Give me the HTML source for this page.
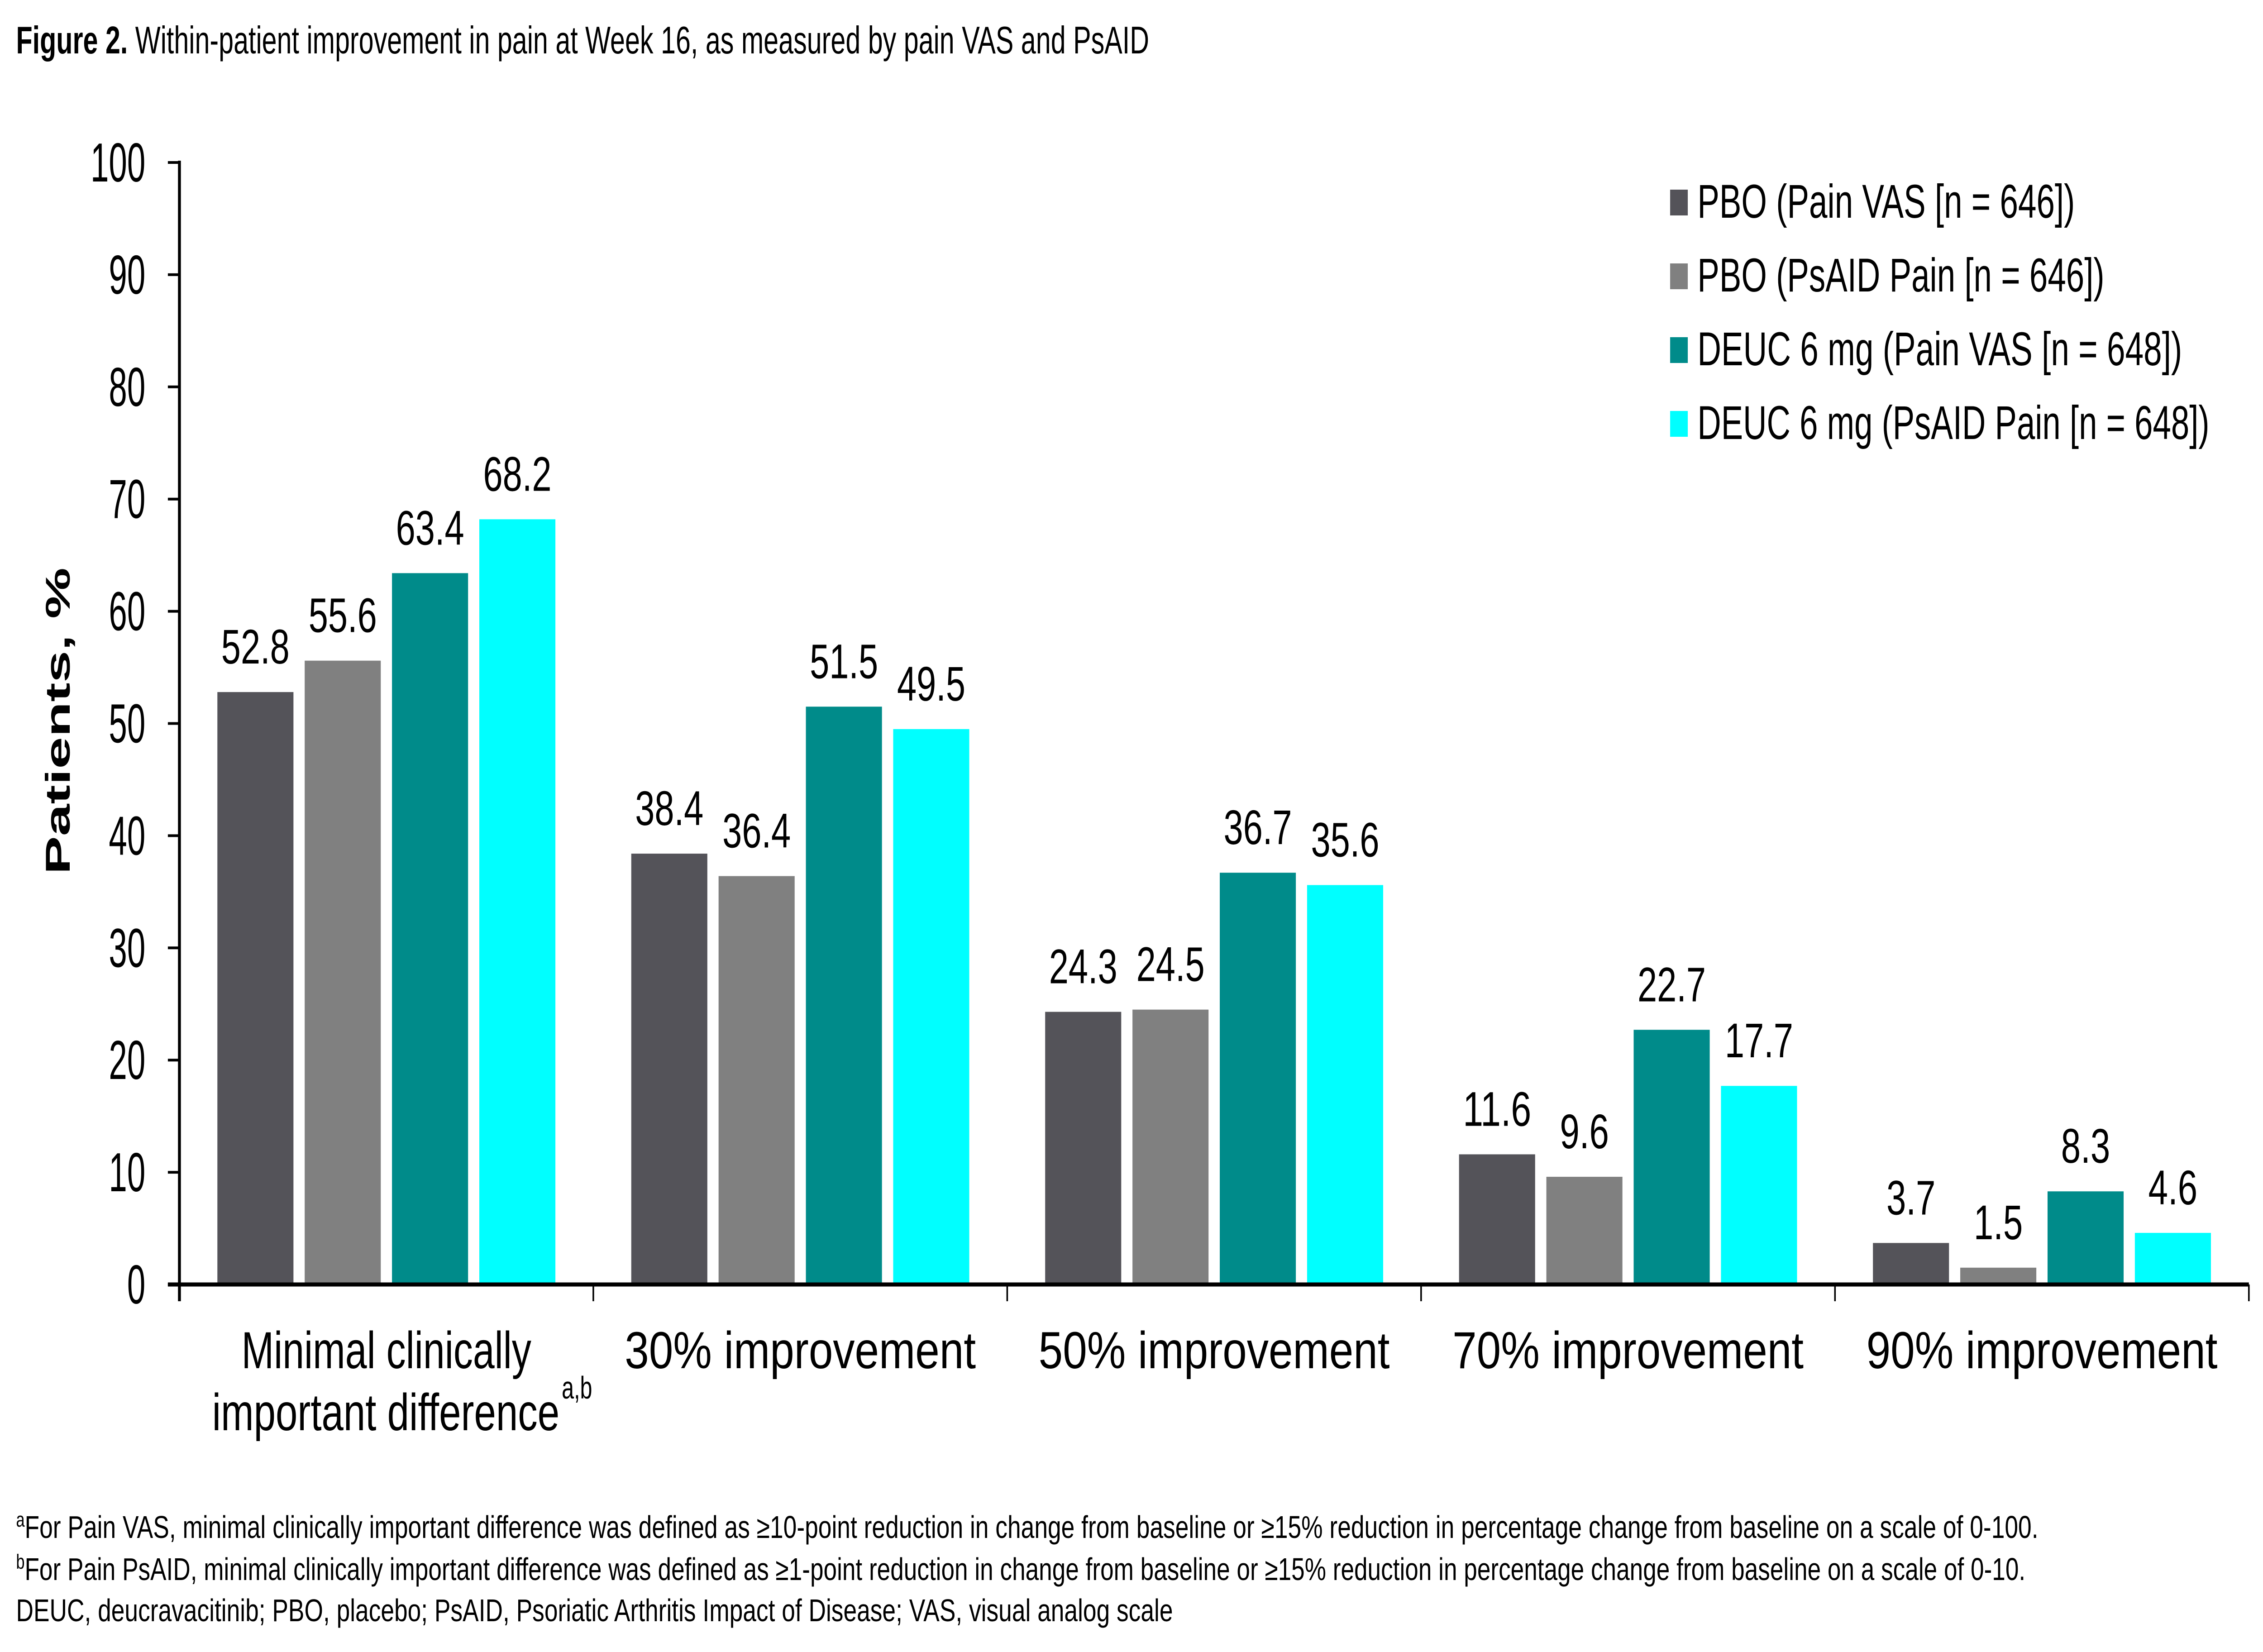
<!DOCTYPE html>
<html><head><meta charset="utf-8"><style>
html,body{margin:0;padding:0;background:#fff;width:100%;height:100%;overflow:hidden}
svg{display:block;width:100vw;height:100vh}
text{font-family:"Liberation Sans",sans-serif;fill:#000}
</style></head><body>
<svg id="chart" viewBox="0 0 7050 3650" preserveAspectRatio="none" xmlns="http://www.w3.org/2000/svg">
<text x="50" y="118" font-size="85" textLength="3530" lengthAdjust="spacingAndGlyphs"><tspan font-weight="bold">Figure  2.</tspan> Within-patient improvement in pain at Week 16, as measured by pain VAS and PsAID</text>
<g id="plot"></g>
<text transform="translate(217,1593) rotate(-90)" text-anchor="middle" font-size="107" font-weight="bold" textLength="678" lengthAdjust="spacingAndGlyphs">Patients, %</text>
<g id="legend"></g>
<g font-size="70">
<text x="50" y="3398" textLength="6300" lengthAdjust="spacingAndGlyphs"><tspan font-size="45" dy="-25">a</tspan><tspan dy="25">For Pain VAS, minimal clinically important difference was defined as ≥10-point reduction in change from baseline or ≥15% reduction in percentage change from baseline on a scale of 0-100.</tspan></text>
<text x="50" y="3491" textLength="6260" lengthAdjust="spacingAndGlyphs"><tspan font-size="45" dy="-25">b</tspan><tspan dy="25">For Pain PsAID, minimal clinically important difference was defined as ≥1-point reduction in change from baseline or ≥15% reduction in percentage change from baseline on a scale of 0-10.</tspan></text>
<text x="50" y="3582" textLength="3604" lengthAdjust="spacingAndGlyphs">DEUC, deucravacitinib; PBO, placebo; PsAID, Psoriatic Arthritis Impact of Disease; VAS, visual analog scale</text>
</g>
</svg>
<script>
const categories = ["Minimal clinically important difference", "30% improvement", "50% improvement", "70% improvement", "90% improvement"];
const seriesNames = ["PBO (Pain VAS [n = 646])", "PBO (PsAID Pain [n = 646])", "DEUC 6 mg (Pain VAS [n = 648])", "DEUC 6 mg (PsAID Pain [n = 648])"];
const pboVas = [52.8, 38.4, 24.3, 11.6, 3.7];
const pboPsaid = [55.6, 36.4, 24.5, 9.6, 1.5];
const deucVas = [63.4, 51.5, 36.7, 22.7, 8.3];
const deucPsaid = [68.2, 49.5, 35.6, 17.7, 4.6];
const yTicks = [0, 10, 20, 30, 40, 50, 60, 70, 80, 90, 100];

const NS = "http://www.w3.org/2000/svg";
const colors = ["#545359", "#808080", "#008b8a", "#00ffff"];
const series = [pboVas, pboPsaid, deucVas, deucPsaid];
const X0 = 559, X1 = 7006, Y0 = 2838, Y100 = 359;
const yScale = v => Y0 - (v / 100) * (Y0 - Y100);
const groupW = (X1 - X0) / categories.length;
const barW = 237, pitch = 272, groupPad = (groupW - (pitch * 3 + barW)) / 2;
const xBar = (g, s) => X0 + g * groupW + groupPad + s * pitch;
const plot = document.getElementById("plot");
function mk(tag, attrs, parent) {
  const e = document.createElementNS(NS, tag);
  for (const k in attrs) e.setAttribute(k, attrs[k]);
  parent.appendChild(e);
  return e;
}
function numLen(str, d) { let w = 0; for (const c of str) w += (c === "." ? d * 0.55 : d); return w; }

yTicks.forEach(t => {
  const y = yScale(t);
  const ln = mk("line", {x1: 523, x2: X0, y1: y, y2: y, stroke: "#000", "stroke-width": 6}, plot);
  
  
  const s = String(t);
  const tx = mk("text", {x: 453, y: y + 42, "text-anchor": "end", "font-size": 122, textLength: numLen(s, 57), lengthAdjust: "spacingAndGlyphs"}, plot);
  tx.textContent = s;
  
  
});

categories.forEach((c, g) => {
  series.forEach((arr, s) => {
    const v = arr[g], x = xBar(g, s), y = yScale(v);
    const r = mk("rect", {x: x, y: y, width: barW, height: Y0 - y, fill: colors[s]}, plot);
    
    
    const str = v.toFixed(1);
    const t = mk("text", {x: x + barW / 2, y: y - 63, "text-anchor": "middle", "font-size": 108, textLength: numLen(str, 60), lengthAdjust: "spacingAndGlyphs"}, plot);
    t.textContent = str;
    
    
  });
});

const yAx = mk("line", {x1: X0, x2: X0, y1: Y100 - 4, y2: 2875, stroke: "#000", "stroke-width": 9}, plot);


const xAx = mk("line", {x1: 523, x2: X1, y1: Y0, y2: Y0, stroke: "#000", "stroke-width": 9}, plot);


for (let g = 1; g <= categories.length; g++) {
  const x = X0 + g * groupW;
  const tk = mk("line", {x1: x, x2: x, y1: Y0, y2: 2875, stroke: "#000", "stroke-width": 5}, plot);
  
  
}

categories.forEach((c, g) => {
  const cx = X0 + g * groupW + groupW / 2;
  if (g === 0) {
    const t1 = mk("text", {x: cx, y: 3023, "text-anchor": "middle", "font-size": 115, textLength: 903, lengthAdjust: "spacingAndGlyphs"}, plot);
    t1.textContent = "Minimal clinically";
    
    
    const t2 = mk("text", {x: 661, y: 3160, "font-size": 115, textLength: 1082, lengthAdjust: "spacingAndGlyphs"}, plot);
    t2.textContent = "important difference";
    
    
    const sup = mk("text", {x: 1750, y: 3090, "font-size": 70, textLength: 95, lengthAdjust: "spacingAndGlyphs"}, plot);
    sup.textContent = "a,b";
    
    
  } else {
    const t = mk("text", {x: cx, y: 3023, "text-anchor": "middle", "font-size": 115, textLength: 1094, lengthAdjust: "spacingAndGlyphs"}, plot);
    t.textContent = c;
    
    
  }
});

const legend = document.getElementById("legend");
const legW = [1176, 1268, 1510, 1595];
seriesNames.forEach((n, i) => {
  const y = 419 + i * 163;
  const sq = mk("rect", {x: 5203, y: y, width: 55, height: 57, fill: colors[i]}, legend);
  
  
  const t = mk("text", {x: 5288, y: y + 62, "font-size": 105, textLength: legW[i], lengthAdjust: "spacingAndGlyphs"}, legend);
  t.textContent = n;
  
  
});
</script>
</body></html>
